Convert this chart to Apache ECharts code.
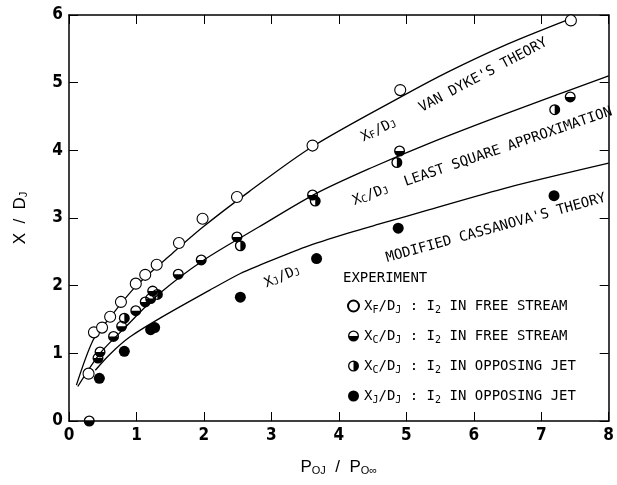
<!DOCTYPE html>
<html>
<head>
<meta charset="utf-8">
<script src="https://cdn.jsdelivr.net/npm/echarts@6/dist/echarts.min.js"></script>
<style>html,body{margin:0;padding:0;background:#fff}#c{width:617px;height:485px}</style>
</head>
<body>
<div id="c"></div>
<script>
// ---- data ----
const xTicks = [0, 1, 2, 3, 4, 5, 6, 7, 8];
const yTicks = [0, 1, 2, 3, 4, 5, 6];

// theory / fit curves [x, y]
const vanDykeCurve = [[0.11,0.53],[0.36,1.20],[0.6,1.52],[1.0,2.0],[1.5,2.45],[1.99,2.87],[2.67,3.39],[3.6,4.05],[4.92,4.79],[5.62,5.16],[6.5,5.57],[7.42,5.94]];
const leastSquareCurve = [[0.13,0.51],[0.46,1.00],[0.8,1.35],[1.35,1.89],[2.0,2.38],[2.82,2.87],[3.66,3.36],[4.5,3.75],[5.33,4.10],[6.5,4.55],[8,5.1]];
const cassanovaCurve = [[0.39,0.75],[0.6,0.98],[0.9,1.24],[1.35,1.52],[2.08,1.93],[2.54,2.18],[2.82,2.30],[3.5,2.57],[4.15,2.78],[4.67,2.93],[5.33,3.12],[6.5,3.45],[8,3.81]];

// experiment points [x, y]
const xfFree = [[0.29,0.70],[0.37,1.31],[0.49,1.38],[0.61,1.54],[0.77,1.76],[0.99,2.03],[1.13,2.16],[1.30,2.31],[1.63,2.63],[1.98,2.99],[2.49,3.31],[3.61,4.07],[4.91,4.89],[7.44,5.92]];
const xcFree = [[0.30,0.0],[0.43,0.93],[0.46,1.02],[0.66,1.25],[0.78,1.40],[0.99,1.63],[1.13,1.76],[1.21,1.81],[1.24,1.92],[1.62,2.17],[1.96,2.38],[2.49,2.72],[3.61,3.34],[4.90,3.99],[7.43,4.79]];
const xcOpposing = [[0.82,1.52],[1.31,1.87],[2.54,2.59],[3.65,3.25],[4.86,3.82],[7.20,4.60]];
const xjOpposing = [[0.45,0.63],[0.82,1.03],[1.21,1.35],[1.27,1.38],[2.54,1.83],[3.67,2.40],[4.88,2.85],[7.19,3.33]];

// curve annotations: [text, x, y, rotationDeg]
const annotations = [
  ['X{s|F}/D{s|J}', 4.59, 4.30, 26],
  ["VAN DYKE'S THEORY", 6.14, 5.11, 28],
  ['X{s|C}/D{s|J}', 4.47, 3.34, 21],
  ['LEAST SQUARE APPROXIMATION', 6.51, 4.05, 19],
  ["MODIFIED CASSANOVA'S THEORY", 6.33, 2.85, 15.5],
  ['X{s|J}/D{s|J}', 3.16, 2.13, 23]
];

const legendLabels = {
  xfFree: 'X{s|F}/D{s|J} : I{s|2} IN FREE STREAM',
  xcFree: 'X{s|C}/D{s|J} : I{s|2} IN FREE STREAM',
  xcOpposing: 'X{s|C}/D{s|J} : I{s|2} IN OPPOSING JET',
  xjOpposing: 'X{s|J}/D{s|J} : I{s|2} IN OPPOSING JET'
};

// ---- styling ----
const LFONT = "'DejaVu Sans Mono', 'Liberation Mono', monospace";
const AFONT = "'Liberation Sans', 'DejaVu Sans', sans-serif";
const TICKFONT = "'Liberation Sans Narrow', 'DejaVu Sans Condensed', sans-serif";
const ring = 'M0 50 A50 50 0 1 1 100 50 A50 50 0 1 1 0 50 Z M12 50 A38 38 0 1 0 88 50 A38 38 0 1 0 12 50 Z ';
const halfBottom = 'path://' + ring + 'M100 50 A50 50 0 0 1 0 50 Z';
const halfRight = 'path://' + ring + 'M50 0 A50 50 0 0 1 50 100 Z';
const richText = {
  s: { fontSize: 10, fontFamily: LFONT, color: '#000', padding: [8, 0, 0, 0], verticalAlign: 'bottom', lineHeight: 10 }
};
const richAxis = {
  a: { fontSize: 17, fontFamily: AFONT, color: '#000' },
  s: { fontSize: 11, fontFamily: AFONT, color: '#000', padding: [8, 0, 0, 0], verticalAlign: 'bottom', lineHeight: 11 }
};

const chart = echarts.init(document.getElementById('c'), null, { renderer: 'canvas' });

function axisX(pos, labels) {
  return {
    type: 'value', min: 0, max: 8, interval: 1, position: pos,
    axisLine: { show: true, onZero: false, lineStyle: { color: '#000', width: 1.5 } },
    axisTick: { show: true, inside: true, length: 9, lineStyle: { color: '#000', width: 1 } },
    axisLabel: { show: labels, color: '#000', fontFamily: TICKFONT, fontWeight: 'bold', fontSize: 17, margin: 6 },
    splitLine: { show: false }
  };
}
function axisY(pos, labels) {
  return {
    type: 'value', min: 0, max: 6, interval: 1, position: pos,
    axisLine: { show: true, onZero: false, lineStyle: { color: '#000', width: 1.5 } },
    axisTick: { show: true, inside: true, length: 9, lineStyle: { color: '#000', width: 1 } },
    axisLabel: { show: labels, color: '#000', fontFamily: TICKFONT, fontWeight: 'bold', fontSize: 17, margin: 6 },
    splitLine: { show: false }
  };
}

const xa = axisX('bottom', true);
xa.name = '{a|P}{s|OJ}{a|  /  P}{s|O∞}';
xa.nameLocation = 'middle';
xa.nameGap = 38;
xa.nameTextStyle = { color: '#000', fontFamily: AFONT, fontSize: 16, rich: richAxis };
const ya = axisY('left', true);
ya.name = '{a|X  /  D}{s|J}';
ya.nameLocation = 'middle';
ya.nameRotate = 90;
ya.nameGap = 40;
ya.nameTextStyle = { color: '#000', fontFamily: AFONT, fontSize: 17, rich: richAxis };

function curve(data) {
  return { type: 'line', data: data, smooth: 0.3, showSymbol: false, symbol: 'none',
    lineStyle: { color: '#000', width: 1.3 }, silent: true, z: 2 };
}
function pts(name, data, symbol, fill, border) {
  return { type: 'scatter', name: name, data: data, symbol: symbol, symbolSize: 11,
    itemStyle: { color: fill, borderColor: border ? '#000' : 'transparent', borderWidth: border ? 1.1 : 0, opacity: 1 }, z: 3 };
}

chart.setOption({
  animation: false,
  backgroundColor: '#fff',
  grid: { left: 69, right: 5, top: 15, bottom: 64 },
  xAxis: [xa, axisX('top', false)],
  yAxis: [ya, axisY('right', false)],
  legend: {
    data: ['xfFree', 'xcFree', 'xcOpposing', 'xjOpposing'],
    orient: 'vertical', left: 342, top: 292, itemWidth: 11, itemHeight: 11, itemGap: 12,
    formatter: function (n) { return legendLabels[n]; },
    textStyle: { color: '#000', fontFamily: LFONT, fontSize: 14, lineHeight: 18, rich: richText }
  },
  series: [
    curve(vanDykeCurve), curve(leastSquareCurve), curve(cassanovaCurve),
    pts('xfFree', xfFree, 'circle', '#fff', true),
    pts('xcFree', xcFree, halfBottom, '#000', false),
    pts('xcOpposing', xcOpposing, halfRight, '#000', false),
    pts('xjOpposing', xjOpposing, 'circle', '#000', false)
  ]
});

const g = annotations.map(function (a) {
  const p = chart.convertToPixel({ gridIndex: 0 }, [a[1], a[2]]);
  return { type: 'text', x: p[0], y: p[1], rotation: a[3] * Math.PI / 180, z: 10,
    style: { text: a[0], fill: '#000', fontFamily: LFONT, fontSize: 14, align: 'center', verticalAlign: 'middle', rich: richText } };
});
g.push({ type: 'text', left: 343, top: 271, z: 10, style: { text: 'EXPERIMENT', fill: '#000', fontFamily: LFONT, fontSize: 14 } });
chart.setOption({ graphic: g });
</script>
</body>
</html>
